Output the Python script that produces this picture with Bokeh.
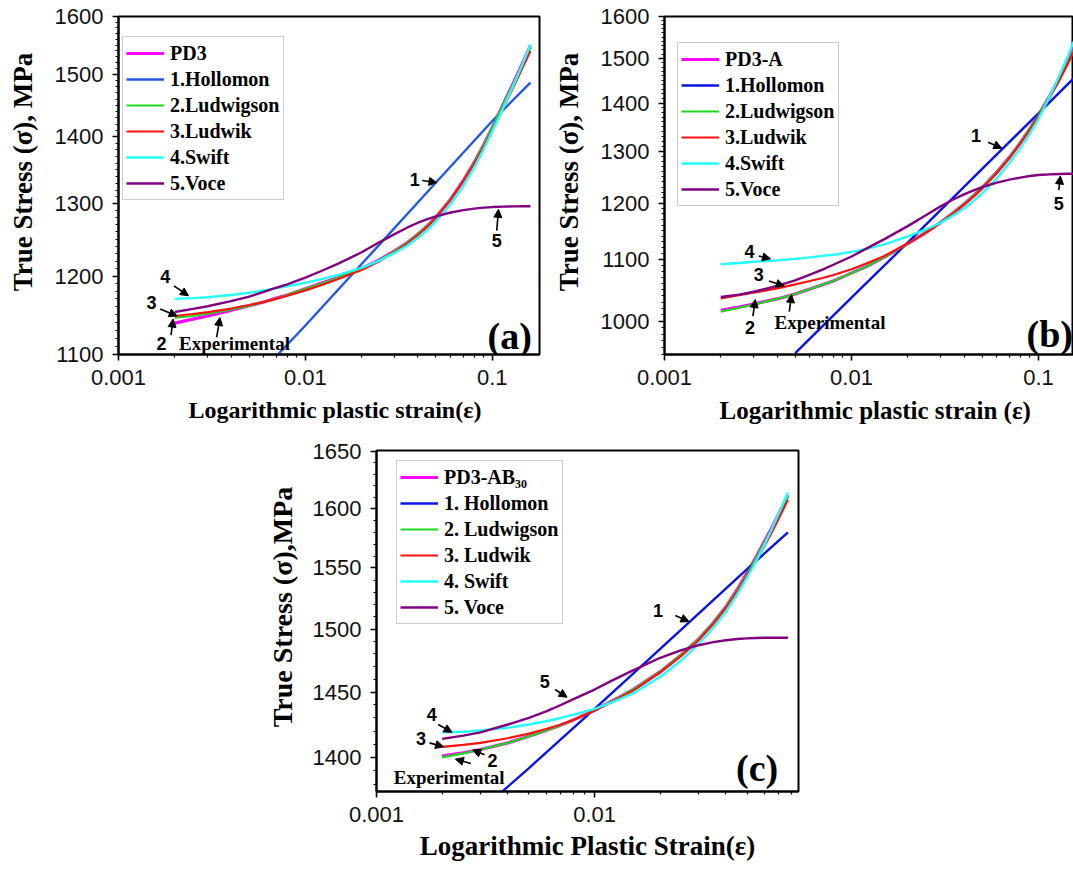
from bokeh.plotting import figure
from bokeh.models import (Range1d, FixedTicker, CustomJSTickFormatter, Legend,
                          LegendItem, Label, Arrow, NormalHead, Spacer)
from bokeh.layouts import row, column
from bokeh.embed import file_html
from bokeh.resources import INLINE

# ---------------- data: panel (a) PD3 ----------------
strain_a = [0.002, 0.0025, 0.003, 0.004, 0.005, 0.006, 0.007, 0.008, 0.01, 0.012, 0.015, 0.02, 0.025,
            0.03, 0.035, 0.04, 0.045, 0.05, 0.06, 0.07, 0.08, 0.09, 0.1, 0.115, 0.13, 0.145, 0.16]
exp_a = [1139, 1144, 1148, 1155, 1161, 1166, 1171, 1175, 1183, 1190, 1198, 1210, 1222,
         1234, 1245, 1257, 1269, 1281, 1307, 1334, 1361, 1388, 1415, 1453, 1487, 1519, 1549]
ludwigson_a = [1146, 1148, 1151, 1156, 1161, 1166, 1170.5, 1175, 1183, 1189.5, 1197.5, 1209.5, 1221.5,
               1233.5, 1245, 1257, 1269, 1281, 1307, 1334, 1361, 1388, 1415, 1452, 1486, 1517, 1546]
ludwik_a = [1148, 1150.5, 1153, 1157.5, 1162, 1166, 1170, 1174, 1181, 1187.5, 1196, 1208, 1220,
            1232, 1243.5, 1255.5, 1267.5, 1280, 1306, 1333, 1359, 1385, 1411, 1447, 1480, 1511, 1540]
swift_a = [1170, 1171, 1172, 1175, 1178, 1181, 1184, 1186.5, 1191, 1195.5, 1201.5, 1211, 1221,
           1231, 1241, 1252, 1263, 1275, 1300, 1326, 1353, 1381, 1409, 1447, 1483, 1517, 1551]
voce_a = [1153, 1157, 1160.5, 1167, 1173, 1179, 1184.5, 1189, 1198, 1206, 1216.5, 1232, 1246,
          1257, 1266, 1273, 1278, 1282, 1287.5, 1291, 1293, 1294.5, 1295.3, 1296, 1296.3, 1296.5, 1296.5]
hollomon_strain_a = [0.007, 0.01, 0.02, 0.05, 0.1, 0.16]
hollomon_a = [1098, 1136, 1216, 1331, 1425, 1487]

# ---------------- data: panel (b) PD3-A ----------------
strain_b = [0.002, 0.0025, 0.003, 0.004, 0.005, 0.006, 0.007, 0.008, 0.01, 0.012, 0.015, 0.02, 0.025,
            0.03, 0.035, 0.04, 0.045, 0.05, 0.06, 0.07, 0.08, 0.09, 0.1, 0.115, 0.13, 0.145, 0.16]
exp_b = [1017, 1022, 1027, 1035, 1043, 1051, 1058, 1064, 1077, 1088, 1104, 1127, 1147,
         1165, 1182, 1198, 1214, 1229, 1259, 1288, 1317, 1346, 1374, 1416, 1457, 1497, 1537]
ludwigson_b = [1015, 1021, 1026, 1035, 1043, 1051, 1058, 1064, 1077, 1088, 1104, 1127, 1147,
               1165, 1182, 1198, 1214, 1229, 1259, 1288, 1317, 1346, 1374, 1415, 1455, 1494, 1533]
ludwik_b = [1036, 1041, 1045, 1052, 1058.5, 1064, 1069, 1074, 1083.5, 1093, 1106, 1127.5, 1146,
            1164, 1180.5, 1196.5, 1212, 1227, 1257, 1286, 1315, 1343, 1371, 1412, 1452, 1491, 1530]
swift_b = [1092, 1094, 1096, 1098.5, 1101, 1103.5, 1106, 1108, 1113, 1118, 1126, 1140, 1152,
           1164, 1177, 1190, 1204, 1218, 1247, 1277, 1306, 1336, 1366, 1415, 1462.5, 1509.5, 1556]
voce_b = [1038, 1042, 1046.5, 1056, 1065, 1074.5, 1083, 1091, 1105, 1118.5, 1135, 1158, 1177.5,
          1194, 1206.5, 1216, 1223.5, 1230, 1238.5, 1244, 1248, 1251, 1253, 1254.3, 1255, 1255.3, 1255.5]
hollomon_strain_b = [0.005, 0.01, 0.02, 0.05, 0.1, 0.16]
hollomon_b = [952, 1037, 1129, 1265, 1378, 1461]

# ---------------- data: panel (c) PD3-AB30 ----------------
strain_c = [0.002, 0.0025, 0.003, 0.004, 0.005, 0.006, 0.007, 0.008, 0.01, 0.012, 0.015, 0.02,
            0.025, 0.03, 0.035, 0.04, 0.045, 0.05, 0.055, 0.06, 0.065, 0.07, 0.077]
exp_c = [1401, 1403.5, 1406, 1411, 1416, 1420.5, 1424.5, 1428.5, 1436, 1443, 1452, 1466,
         1479.5, 1492, 1505, 1518, 1532, 1546, 1559, 1572, 1584, 1596, 1612]
ludwigson_c = [1400, 1403, 1406, 1411, 1416, 1420.5, 1424.5, 1428.5, 1436, 1443, 1452, 1466,
               1479.5, 1492, 1505, 1518, 1531.5, 1545, 1558, 1571, 1583, 1595, 1611]
ludwik_c = [1408, 1409.5, 1411, 1414.5, 1418, 1421.5, 1425, 1428.5, 1435.5, 1442.5, 1451, 1465.5,
            1478.5, 1491, 1504, 1517, 1530.5, 1544, 1556, 1568, 1580, 1592, 1608]
swift_c = [1419, 1419.5, 1420.5, 1422.5, 1425, 1427.5, 1430, 1432.5, 1437, 1442, 1449, 1462,
           1475, 1488, 1501, 1514, 1528, 1542, 1555.5, 1569, 1583, 1596.5, 1614]
voce_c = [1414, 1416.5, 1419, 1425, 1430, 1435, 1440, 1444.5, 1452, 1459, 1467, 1477,
          1483, 1487, 1489.5, 1491, 1492, 1492.5, 1492.8, 1493, 1493, 1493, 1493]
hollomon_strain_c = [0.0038, 0.005, 0.01, 0.02, 0.05, 0.077]
hollomon_c = [1375, 1392, 1437, 1484, 1549, 1580]

# tick values
x_major = [0.001, 0.01, 0.1]
y_major_a = [1100, 1200, 1300, 1400, 1500, 1600]
y_major_b = [1000, 1100, 1200, 1300, 1400, 1500, 1600]
y_major_c = [1400, 1450, 1500, 1550, 1600, 1650]

# legend labels
legend_a = ["PD3", "1.Hollomon", "2.Ludwigson", "3.Ludwik", "4.Swift", "5.Voce"]
legend_b = ["PD3-A", "1.Hollomon", "2.Ludwigson", "3.Ludwik", "4.Swift", "5.Voce"]
legend_c = ["PD3-AB\u2083\u2080", "1. Hollomon", "2. Ludwigson", "3. Ludwik", "4. Swift", "5. Voce"]

# annotations (text, x, y) and arrows (x0, y0, x1, y1), data coordinates
num_text_a = ["1", "5", "4", "3", "2"]
num_x_a = [0.0385, 0.1057, 0.00178, 0.0015, 0.0017]
num_y_a = [1336, 1248, 1200, 1165, 1113]
arr_a = [(0.0422, 1334, 0.0506, 1331), (0.1057, 1262, 0.108, 1292), (0.00198, 1187, 0.00237, 1174),
         (0.00167, 1157, 0.00206, 1148), (0.00191, 1124, 0.00196, 1144), (0.00335, 1121, 0.00349, 1146)]
exp_lab_a = (0.00211, 1113)
letter_a = ("(a)", 0.163, 1123)

num_text_b = ["1", "5", "4", "3", "2"]
num_x_b = [0.0464, 0.1285, 0.00285, 0.00319, 0.00287]
num_y_b = [1331, 1199, 1113, 1075, 990]
arr_b = [(0.0538, 1318, 0.0637, 1306), (0.1285, 1224, 0.131, 1251), (0.00319, 1106, 0.00369, 1101),
         (0.00362, 1064, 0.00437, 1056), (0.00297, 1008, 0.00306, 1034), (0.00465, 1015, 0.00478, 1042)]
exp_lab_b = (0.00388, 998)
letter_b = ("(b)", 0.153, 980)

num_text_c = ["1", "5", "4", "3", "2"]
num_x_c = [0.01953, 0.00591, 0.00179, 0.0016, 0.0034]
num_y_c = [1515, 1458, 1433, 1414, 1397.5]
arr_c = [(0.02344, 1511, 0.0271, 1506), (0.00659, 1452, 0.00748, 1446), (0.00192, 1425, 0.00222, 1419),
         (0.00175, 1411, 0.00203, 1408), (0.00313, 1402, 0.00276, 1405.6), (0.00271, 1395.5, 0.0023, 1398.7)]
exp_lab_c = (0.0012, 1385)
letter_c = ("(c)", 0.0695, 1392)

SERIF = "Liberation Serif"
SANS = "Liberation Sans"
MAGENTA = "#FF00FF"
GREEN = "#1ED81E"
RED = "#FF1010"
CYAN = "#22FFFF"
PURPLE = "#800080"
NB = "\u00a0"


def build(c):
    p = figure(x_axis_type="log", y_axis_type="log", title=None,
               x_range=Range1d(*c["xr"]), y_range=Range1d(*c["yr"]),
               width=c["w"], height=c["h"],
               output_backend="svg", toolbar_location=None)
    p.min_border_left = c["bl"]
    p.min_border_right = c["br"]
    p.min_border_top = c["bt"]
    p.min_border_bottom = c["bb"]
    p.xgrid.visible = False
    p.ygrid.visible = False
    p.outline_line_color = "black"
    p.outline_line_width = 2
    p.background_fill_color = "white"
    p.border_fill_color = "white"

    x_minor = [m * d for d in (0.001, 0.01, 0.1) for m in range(2, 10)]
    p.xaxis.ticker = FixedTicker(ticks=x_major, minor_ticks=x_minor)
    ymin, ymax = c["yr"]
    y_minor = [v for v in range(int(ymin) - int(ymin) % 10, int(ymax) + 10, 10)
               if v not in c["ymaj"]]
    p.yaxis.ticker = FixedTicker(ticks=c["ymaj"], minor_ticks=y_minor)
    p.xaxis.formatter = CustomJSTickFormatter(code="return String(tick);")
    p.yaxis.formatter = CustomJSTickFormatter(code="return tick.toFixed(0);")

    for ax in (p.xaxis[0], p.yaxis[0]):
        ax.axis_line_width = 2
        ax.axis_line_color = "black"
        ax.major_tick_line_width = 1.6
        ax.minor_tick_line_width = 1.2
        ax.major_tick_out = 6
        ax.major_tick_in = 0
        ax.minor_tick_out = 3
        ax.minor_tick_in = 0
        ax.major_label_text_font = SANS
        ax.major_label_text_font_size = "22px"
        ax.major_label_text_color = "#111111"
        ax.major_label_standoff = 9
        ax.axis_label_text_font = SERIF
        ax.axis_label_text_font_style = "bold"
        ax.axis_label_text_color = "black"
    p.xaxis.axis_label = c["xlabel"]
    p.xaxis.axis_label_text_font_size = c["xls"]
    p.xaxis.axis_label_standoff = c["xlst"]
    p.yaxis.axis_label = c["ylabel"]
    p.yaxis.axis_label_text_font_size = c["yls"]
    p.yaxis.axis_label_standoff = c["ylst"]

    s = c["strain"]
    r_exp = p.line(s, c["exp"], line_color=MAGENTA, line_width=3.2)
    r_hol = p.line(c["hs"], c["hol"], line_color=c["blue"], line_width=2.4)
    r_lwg = p.line(s, c["lwg"], line_color=GREEN, line_width=2.2)
    r_lwk = p.line(s, c["lwk"], line_color=RED, line_width=2.2)
    r_swf = p.line(s, c["swf"], line_color=CYAN, line_width=2.4)
    r_voc = p.line(s, c["voc"], line_color=PURPLE, line_width=2.4)
    rends = [r_exp, r_hol, r_lwg, r_lwk, r_swf, r_voc]

    items = [LegendItem(label=lab, renderers=[r]) for lab, r in zip(c["legend"], rends)]
    leg = Legend(items=items, location=c["legloc"], orientation="vertical",
                 label_text_font=SERIF, label_text_font_style="bold",
                 label_text_font_size="20px", label_text_color="black",
                 label_text_baseline="middle",
                 glyph_width=38, glyph_height=20, label_height=26, label_standoff=6,
                 spacing=0, padding=3, margin=0,
                 border_line_color="#9a9a9a", border_line_width=1.5,
                 background_fill_color="white", background_fill_alpha=1.0)
    p.add_layout(leg)

    for t, x, y in zip(c["nt"], c["nx"], c["ny"]):
        p.add_layout(Label(x=x, y=y, text=t, text_font=SANS, text_font_style="bold",
                           text_font_size="18px", text_color="black",
                           text_align="center", text_baseline="middle"))
    for (x0, y0, x1, y1) in c["arr"]:
        p.add_layout(Arrow(end=NormalHead(size=8, line_color="black", fill_color="black", line_width=1),
                           x_start=x0, y_start=y0, x_end=x1, y_end=y1,
                           line_color="black", line_width=1.6))
    ex, ey = c["explab"]
    p.add_layout(Label(x=ex, y=ey, text="Experimental", text_font=SERIF, text_font_style="bold",
                       text_font_size="19px", text_color="black",
                       text_align="left", text_baseline="middle"))
    lt, lx, ly = c["letter"]
    p.add_layout(Label(x=lx, y=ly, text=lt, text_font=SERIF, text_font_style="bold",
                       text_font_size="38px", text_color="black",
                       text_align="right", text_baseline="alphabetic"))
    return p


pa = build(dict(xr=(0.001, 0.179), yr=(1100, 1600), ymaj=y_major_a,
                w=550, h=432, bl=118, br=11, bt=15, bb=78,
                xlabel=NB * 2 + "Logarithmic plastic strain(\u03b5)", xls="24px", xlst=9,
                ylabel=NB * 4 + "True Stress (\u03c3), MPa", yls="27px", ylst=14,
                strain=strain_a, exp=exp_a, hs=hollomon_strain_a, hol=hollomon_a,
                lwg=ludwigson_a, lwk=ludwik_a, swf=swift_a, voc=voce_a, blue="#2457E6",
                legend=legend_a, legloc=(4, 154),
                nt=num_text_a, nx=num_x_a, ny=num_y_a, arr=arr_a,
                explab=exp_lab_a, letter=letter_a))

pb = build(dict(xr=(0.001, 0.154), yr=(950, 1600), ymaj=y_major_b,
                w=523, h=432, bl=110, br=0, bt=16, bb=75,
                xlabel=NB * 2 + "Logarithmic plastic strain (\u03b5)", xls="25px", xlst=9,
                ylabel=NB * 4 + "True Stress (\u03c3), MPa", yls="27px", ylst=14,
                strain=strain_b, exp=exp_b, hs=hollomon_strain_b, hol=hollomon_b,
                lwg=ludwigson_b, lwk=ludwik_b, swf=swift_b, voc=voce_b, blue="#0A14E6",
                legend=legend_b, legloc=(13, 148),
                nt=num_text_b, nx=num_x_b, ny=num_y_b, arr=arr_b,
                explab=exp_lab_b, letter=letter_b))

pc = build(dict(xr=(0.001, 0.0861), yr=(1374.6, 1651), ymaj=y_major_c,
                w=558, h=437, bl=116, br=20, bt=18, bb=78,
                xlabel="Logarithmic Plastic Strain(\u03b5)", xls="27px", xlst=6,
                ylabel=NB * 4 + "True Stress (\u03c3),MPa", yls="28px", ylst=12,
                strain=strain_c, exp=exp_c, hs=hollomon_strain_c, hol=hollomon_c,
                lwg=ludwigson_c, lwk=ludwik_c, swf=swift_c, voc=voce_c, blue="#0A14E6",
                legend=legend_c, legloc=(20, 167),
                nt=num_text_c, nx=num_x_c, ny=num_y_c, arr=arr_c,
                explab=exp_lab_c, letter=letter_c))

layout = column(row(pa, pb, spacing=0),
                row(Spacer(width=260, height=437), pc, spacing=0),
                spacing=0)

open("out.html", "w").write(file_html(layout, INLINE))
